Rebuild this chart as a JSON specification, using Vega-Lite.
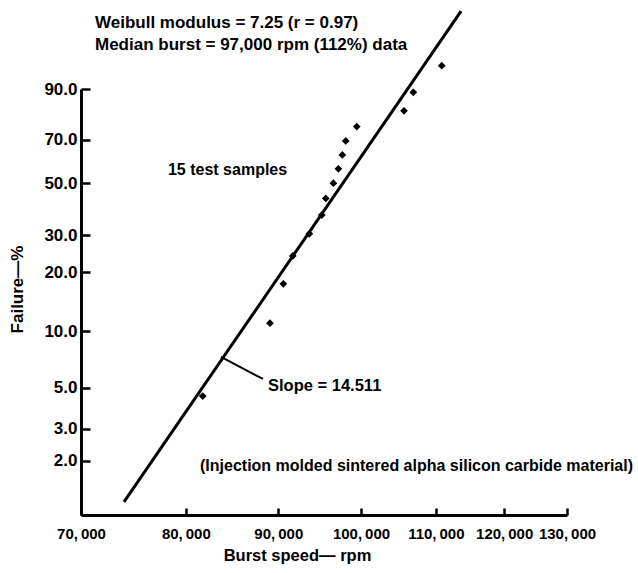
{
  "$schema": "https://vega.github.io/schema/vega-lite/v6.json",
  "width": 486,
  "height": 426,
  "autosize": "none",
  "padding": {"left": 81, "top": 89, "right": 71, "bottom": 58},
  "background": "white",
  "config": {"view": {"stroke": null}, "font": "Liberation Sans"},
  "datasets": {
    "samples": [
      {"speed": 81740, "failure": 4.5},
      {"speed": 89050, "failure": 11.0},
      {"speed": 90580, "failure": 17.5},
      {"speed": 91670, "failure": 24.0},
      {"speed": 93630, "failure": 30.5},
      {"speed": 95120, "failure": 37.0},
      {"speed": 95610, "failure": 43.5},
      {"speed": 96540, "failure": 50.0},
      {"speed": 97160, "failure": 56.5},
      {"speed": 97650, "failure": 63.0},
      {"speed": 98070, "failure": 69.5},
      {"speed": 99460, "failure": 76.0},
      {"speed": 105630, "failure": 82.5},
      {"speed": 106890, "failure": 89.0},
      {"speed": 110830, "failure": 95.5}
    ],
    "fit": [
      {"speed": 73940, "failure": 1.188},
      {"speed": 113590, "failure": 99.80}
    ]
  },
  "layer": [
    {
      "data": {"name": "fit"},
      "transform": [{"calculate": "log(-log(1 - datum.failure / 100))", "as": "w"}],
      "mark": {"type": "line", "color": "black", "strokeWidth": 3, "clip": false},
      "encoding": {
        "x": {
          "field": "speed", "type": "quantitative",
          "scale": {"type": "log", "domain": [70000, 130000], "nice": false, "zero": false},
          "axis": {
            "values": [70000, 80000, 90000, 100000, 110000, 120000, 130000],
            "labelExpr": "replace(format(datum.value, ','), ',', ',\u2009')",
            "title": "Burst speed\u2014 rpm",
            "titleFontSize": 16.5, "titleFontWeight": "bold", "titleColor": "black",
            "titleX": 216, "titleY": 40, "titleAlign": "center", "titleBaseline": "middle",
            "labelFontSize": 15, "labelFontWeight": "bold", "labelColor": "black", "labelPadding": 18,
            "labelFlush": false, "labelOverlap": false,
            "tickSize": -7, "tickWidth": 2.5, "tickColor": "black",
            "domainWidth": 3, "domainColor": "black", "grid": false
          }
        },
        "y": {
          "field": "w", "type": "quantitative",
          "scale": {"domain": [-4.593, 0.83403], "nice": false, "zero": false},
          "axis": {
            "values": [-3.90194, -3.49137, -2.97020, -2.25037, -1.49994, -1.03093, -0.36651, 0.18563, 0.83403],
            "labelExpr": "format(100 * (1 - exp(-exp(datum.value))), '.1f')",
            "title": "Failure\u2014%",
            "titleFontSize": 17, "titleFontWeight": "bold", "titleColor": "black",
            "titleX": -64, "titleY": 200, "titleAngle": -90, "titleAlign": "center", "titleBaseline": "middle",
            "labelFontSize": 17, "labelFontWeight": "bold", "labelColor": "black", "labelPadding": 13,
            "labelFlush": false, "labelOverlap": false,
            "tickSize": -9, "tickWidth": 2.5, "tickColor": "black",
            "domainWidth": 3, "domainColor": "black", "grid": false
          }
        }
      }
    },
    {
      "data": {"name": "samples"},
      "transform": [{"calculate": "log(-log(1 - datum.failure / 100))", "as": "w"}],
      "mark": {"type": "point", "shape": "diamond", "filled": true, "color": "black", "size": 60, "opacity": 1},
      "encoding": {
        "x": {"field": "speed", "type": "quantitative"},
        "y": {"field": "w", "type": "quantitative"}
      }
    },
    {
      "data": {"values": [{}]},
      "mark": {"type": "rule", "color": "black", "strokeWidth": 2, "clip": false},
      "encoding": {
        "x": {"datum": 83660, "type": "quantitative"},
        "x2": {"datum": 88260},
        "y": {"datum": -2.58, "type": "quantitative"},
        "y2": {"datum": -2.86}
      }
    },
    {
      "data": {"values": [{}]},
      "mark": {"type": "text", "align": "left", "baseline": "middle", "fontSize": 17, "fontWeight": "bold", "color": "black", "clip": false},
      "encoding": {
        "x": {"datum": 71260, "type": "quantitative"},
        "y": {"datum": 1.675, "type": "quantitative"},
        "text": {"value": "Weibull modulus = 7.25 (r = 0.97)"}
      }
    },
    {
      "data": {"values": [{}]},
      "mark": {"type": "text", "align": "left", "baseline": "middle", "fontSize": 17, "fontWeight": "bold", "color": "black", "clip": false},
      "encoding": {
        "x": {"datum": 71260, "type": "quantitative"},
        "y": {"datum": 1.394, "type": "quantitative"},
        "text": {"value": "Median burst = 97,000 rpm (112%) data"}
      }
    },
    {
      "data": {"values": [{}]},
      "mark": {"type": "text", "align": "left", "baseline": "middle", "fontSize": 16, "fontWeight": "bold", "color": "black", "clip": false},
      "encoding": {
        "x": {"datum": 78200, "type": "quantitative"},
        "y": {"datum": -0.198, "type": "quantitative"},
        "text": {"value": "15 test samples"}
      }
    },
    {
      "data": {"values": [{}]},
      "mark": {"type": "text", "align": "left", "baseline": "middle", "fontSize": 16.5, "fontWeight": "bold", "color": "black", "clip": false},
      "encoding": {
        "x": {"datum": 88830, "type": "quantitative"},
        "y": {"datum": -2.949, "type": "quantitative"},
        "text": {"value": "Slope = 14.511"}
      }
    },
    {
      "data": {"values": [{}]},
      "mark": {"type": "text", "align": "left", "baseline": "middle", "fontSize": 16, "fontWeight": "bold", "color": "black", "clip": false},
      "encoding": {
        "x": {"datum": 81460, "type": "quantitative"},
        "y": {"datum": -3.969, "type": "quantitative"},
        "text": {"value": "(Injection molded sintered alpha silicon carbide material)"}
      }
    }
  ]
}
